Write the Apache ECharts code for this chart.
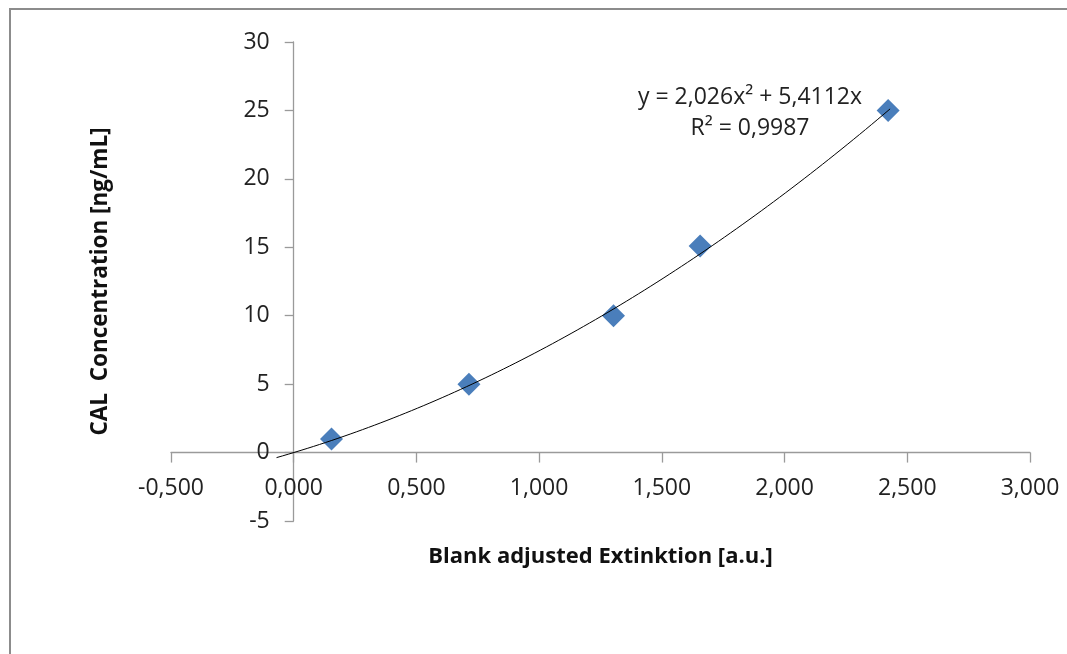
<!DOCTYPE html>
<html>
<head>
<meta charset="utf-8">
<style>
html,body{margin:0;padding:0;background:#fff;}
#c{width:1067px;height:654px;}
</style>
<script src="https://cdn.jsdelivr.net/npm/echarts@6/dist/echarts.min.js"></script>
</head>
<body>
<div id="c"></div>
<script>
// Data
var extinction = [0.154, 0.714, 1.303, 1.656, 2.422];
var concentration = [1.0, 5.0, 10.0, 15.1, 25.0];
// Trendline coefficients as printed on the chart: y = a*x^2 + b*x
var trendA = 2.026;
var trendB = 5.4112;
var trendRange = [-0.07, 2.43];
var xTicks = [-0.5, 0, 0.5, 1, 1.5, 2, 2.5, 3];
var yTicks = [-5, 0, 5, 10, 15, 20, 25, 30];
var equationText = 'y = 2,026x² + 5,4112x';
var r2Text = 'R² = 0,9987';

var trend = [];
for (var i = 0; i <= 100; i++) {
  var x = trendRange[0] + (trendRange[1] - trendRange[0]) * i / 100;
  trend.push([x, trendA * x * x + trendB * x]);
}
var pts = extinction.map(function (x, i) { return [x, concentration[i]]; });

var W = 1067, H = 654;
var G = { left: 171, right: 37, top: 42, bottom: 133 };
var gw = W - G.left - G.right, gh = H - G.top - G.bottom;
var xMin = xTicks[0], xMax = xTicks[xTicks.length - 1];
var yMin = yTicks[0], yMax = yTicks[yTicks.length - 1];
// shift axes so they cross at zero
var xOffset = -((0 - yMin) / (yMax - yMin)) * gh;
var yOffset = -((0 - xMin) / (xMax - xMin)) * gw;

var FONT = '"Open Sans"';
var AXC = '#9a9a9a';
var chart = echarts.init(document.getElementById('c'));
chart.setOption({
  backgroundColor: '#fff',
  animation: false,
  grid: { left: G.left, right: G.right, top: G.top, bottom: G.bottom, outerBoundsMode: 'none', containLabel: false },
  xAxis: {
    type: 'value', min: xMin, max: xMax, interval: 0.5, offset: xOffset,
    axisLine: { onZero: false, lineStyle: { color: AXC, width: 1.3 } },
    axisTick: { show: true, length: 10, lineStyle: { color: AXC, width: 1.3 } },
    axisLabel: { margin: 24, color: '#222', fontSize: 23, fontFamily: FONT,
      formatter: function (v) { return v.toFixed(3).replace('.', ','); } },
    splitLine: { show: false },
    name: 'Blank adjusted Extinktion [a.u.]', nameLocation: 'middle', nameGap: 93,
    nameTextStyle: { fontSize: 22, fontWeight: 'bold', color: '#111', fontFamily: FONT }
  },
  yAxis: {
    type: 'value', min: yMin, max: yMax, interval: 5, offset: yOffset,
    axisLine: { onZero: false, lineStyle: { color: AXC, width: 1.3 } },
    axisTick: { show: true, length: 9, lineStyle: { color: AXC, width: 1.3 } },
    axisLabel: { margin: 24, color: '#222', fontSize: 23, fontFamily: FONT },
    splitLine: { show: false },
    name: 'CAL  Concentration [ng/mL]', nameLocation: 'middle', nameGap: 182, nameRotate: 90,
    nameTextStyle: { fontSize: 22.5, fontWeight: 'bold', color: '#111', fontFamily: FONT }
  },
  series: [
    {
      type: 'line', data: trend, showSymbol: false, smooth: false,
      lineStyle: { color: '#000', width: 1 }, z: 3, silent: true
    },
    {
      type: 'scatter', data: pts, symbol: 'diamond', symbolSize: [23, 23],
      itemStyle: { color: '#4a7ebb', opacity: 1 }, z: 2
    }
  ],
  graphic: [
    { type: 'rect', shape: { x: 10, y: 9, width: 1200, height: 800 },
      style: { fill: 'none', stroke: '#8c8c8c', lineWidth: 2 }, silent: true, z: -1 },
    { type: 'text', x: 750, y: 97,
      style: { text: equationText, font: '23px ' + FONT, fill: '#222', textAlign: 'center', textVerticalAlign: 'middle' } },
    { type: 'text', x: 750, y: 128,
      style: { text: r2Text, font: '23px ' + FONT, fill: '#222', textAlign: 'center', textVerticalAlign: 'middle' } }
  ]
});
</script>
</body>
</html>
